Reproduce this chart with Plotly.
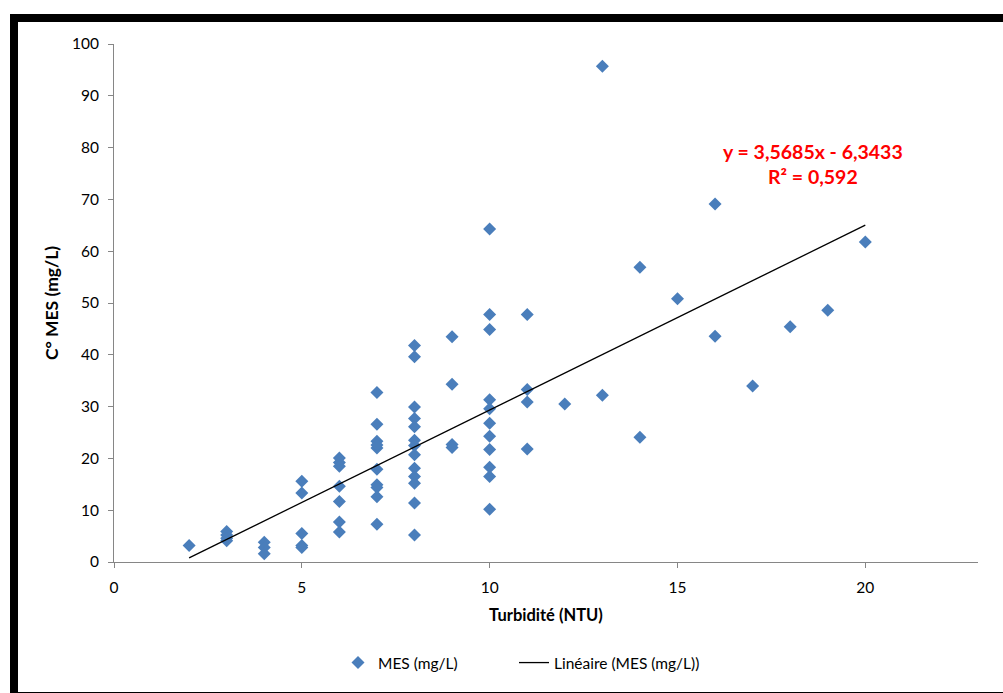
import plotly.graph_objects as go

# Turbidity (NTU) values and matching MES (mg/L) values
turbidite = (
    [2]
    + [3] * 4
    + [4] * 3
    + [5] * 5
    + [6] * 7
    + [7] * 10
    + [8] * 13
    + [9] * 4
    + [10] * 11
    + [11] * 4
    + [12]
    + [13] * 2
    + [14] * 2
    + [15]
    + [16] * 2
    + [17]
    + [18]
    + [19]
    + [20]
)
mes = (
    [3.2]
    + [5.9, 5.2, 4.6, 4.1]
    + [3.8, 2.8, 1.6]
    + [15.6, 13.3, 5.5, 3.2, 2.8]
    + [20.1, 19.2, 18.5, 14.6, 11.7, 7.7, 5.8]
    + [32.7, 26.6, 23.3, 22.0, 17.9, 14.9, 14.4, 12.6, 7.3, 22.6]
    + [41.8, 39.6, 29.9, 27.7, 26.1, 23.5, 22.5, 20.7, 18.1, 16.5, 15.2, 11.4, 5.2]
    + [43.5, 34.3, 22.7, 22.1]
    + [64.3, 47.8, 44.9, 31.3, 29.6, 26.8, 24.3, 21.7, 18.3, 16.5, 10.2]
    + [47.8, 33.3, 30.9, 21.8]
    + [30.5]
    + [95.7, 32.2]
    + [56.9, 24.1]
    + [50.8]
    + [69.1, 43.6]
    + [34.0]
    + [45.4]
    + [48.6]
    + [61.8]
)

slope = 3.5685
intercept = -6.3433
r2_label = "0,592"
eq_label = "y = 3,5685x - 6,3433"

x_ticks = [0, 5, 10, 15, 20]
y_ticks = [0, 10, 20, 30, 40, 50, 60, 70, 80, 90, 100]

x_min, x_max = min(turbidite), max(turbidite)
trend_x = [x_min, x_max]
trend_y = [slope * v + intercept for v in trend_x]

W, H = 1003, 693
L, R, T, B = 114, 25, 44, 131
pw, ph = W - L - R, H - T - B

def px(xp):
    return (xp - L) / pw

def py(yp):
    return (H - B - yp) / ph

FONT = "Lato"
FS = 15.5

fig = go.Figure()
fig.add_trace(go.Scatter(
    x=turbidite, y=mes, mode="markers", name="MES (mg/L)",
    marker=dict(symbol="diamond", size=10, color="#4a7ebb", line=dict(width=0)),
    legend="legend",
))
fig.add_trace(go.Scatter(
    x=trend_x, y=trend_y, mode="lines", name="Linéaire (MES (mg/L))",
    line=dict(color="black", width=1.3),
    legend="legend2",
))

fig.add_annotation(
    x=18.6, y=76.8, xref="x", yref="y",
    text=f"<b>{eq_label}<br>R² = {r2_label}</b>",
    showarrow=False, align="center",
    font=dict(family=FONT, size=19.5, color="#ff0000"),
)

# Chart border (thick black frame, partially cut by the window)
fig.add_shape(
    type="rect", xref="paper", yref="paper",
    x0=px(14), x1=px(1012), y0=py(696), y1=py(18),
    line=dict(color="black", width=8), fillcolor="rgba(0,0,0,0)", layer="above",
)

legend_common = dict(
    orientation="h", yanchor="middle", y=py(663), xanchor="left",
    font=dict(family=FONT, size=FS), itemwidth=30,
    bgcolor="rgba(0,0,0,0)",
)

fig.update_layout(
    width=W, height=H,
    margin=dict(l=L, r=R, t=T, b=B, pad=0),
    paper_bgcolor="white", plot_bgcolor="white",
    font=dict(family=FONT, size=FS, color="black"),
    showlegend=True,
    legend=dict(x=px(338), **legend_common),
    legend2=dict(x=px(514), **legend_common),
    xaxis=dict(
        range=[0, 23], tickvals=x_ticks, ticks="outside", ticklen=5,
        tickcolor="#868686", showline=True, linecolor="#868686", linewidth=1,
        showgrid=False, zeroline=False, ticklabelstandoff=6,
        title=dict(text="<b>Turbidité (NTU)</b>", standoff=14,
                   font=dict(family=FONT, size=16.5)),
    ),
    yaxis=dict(
        range=[0, 100], tickvals=y_ticks, ticks="outside", ticklen=5,
        tickcolor="#868686", showline=True, linecolor="#868686", linewidth=1,
        showgrid=False, zeroline=False, ticklabelstandoff=6,
        title=dict(text="<b>C° MES (mg/L)</b>", standoff=8,
                   font=dict(family=FONT, size=17.5)),
    ),
)

fig.write_html("out.html")
